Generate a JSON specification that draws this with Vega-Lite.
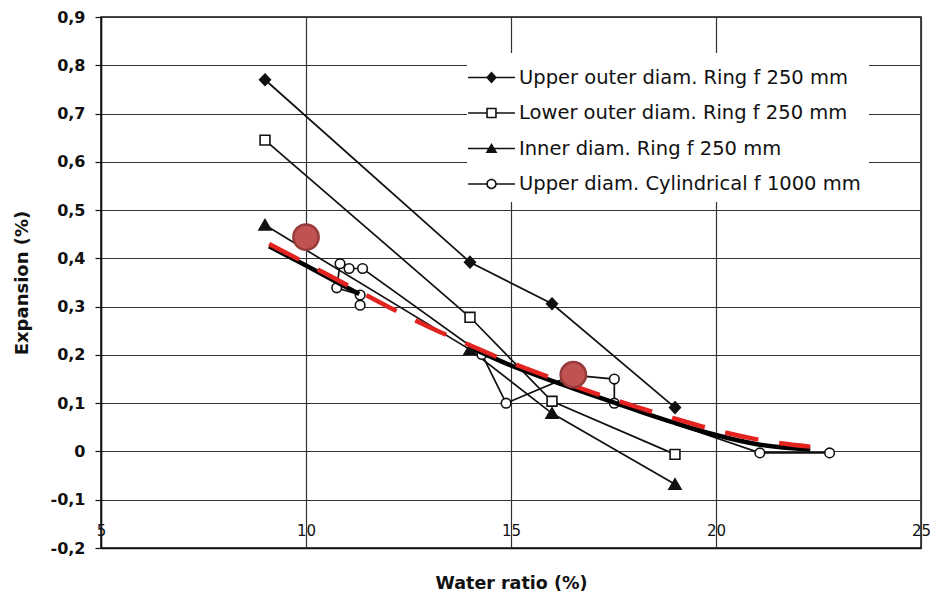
{
  "$schema": "https://vega.github.io/schema/vega-lite/v6.json",
  "width": 820,
  "height": 531,
  "autosize": {"type": "none"},
  "padding": {"left": 101, "top": 17, "right": 12, "bottom": 55},
  "background": "white",
  "config": {
    "view": {"stroke": "#111", "strokeWidth": 1.5},
    "font": "DejaVu Sans"
  },
  "resolve": {"scale": {"shape": "independent", "fill": "independent"}, "legend": {"shape": "independent", "fill": "independent"}},
  "datasets": {
    "series": [
      {"series": "Upper outer diam. Ring f 250 mm", "idx": 1, "x": 9, "y": 0.77},
      {"series": "Upper outer diam. Ring f 250 mm", "idx": 2, "x": 14, "y": 0.392},
      {"series": "Upper outer diam. Ring f 250 mm", "idx": 3, "x": 16, "y": 0.306},
      {"series": "Upper outer diam. Ring f 250 mm", "idx": 4, "x": 19, "y": 0.091},
      {"series": "Lower outer diam. Ring f 250 mm", "idx": 1, "x": 9, "y": 0.645},
      {"series": "Lower outer diam. Ring f 250 mm", "idx": 2, "x": 14, "y": 0.278},
      {"series": "Lower outer diam. Ring f 250 mm", "idx": 3, "x": 16, "y": 0.104},
      {"series": "Lower outer diam. Ring f 250 mm", "idx": 4, "x": 19, "y": -0.006},
      {"series": "Inner diam. Ring f 250 mm", "idx": 1, "x": 9, "y": 0.469},
      {"series": "Inner diam. Ring f 250 mm", "idx": 2, "x": 14, "y": 0.211},
      {"series": "Inner diam. Ring f 250 mm", "idx": 3, "x": 16, "y": 0.079},
      {"series": "Inner diam. Ring f 250 mm", "idx": 4, "x": 19, "y": -0.068},
      {"series": "Upper diam. Cylindrical f 1000 mm", "idx": 1, "x": 11.32, "y": 0.303},
      {"series": "Upper diam. Cylindrical f 1000 mm", "idx": 2, "x": 11.32, "y": 0.324},
      {"series": "Upper diam. Cylindrical f 1000 mm", "idx": 3, "x": 10.75, "y": 0.339},
      {"series": "Upper diam. Cylindrical f 1000 mm", "idx": 4, "x": 10.83, "y": 0.389},
      {"series": "Upper diam. Cylindrical f 1000 mm", "idx": 5, "x": 11.05, "y": 0.379},
      {"series": "Upper diam. Cylindrical f 1000 mm", "idx": 6, "x": 11.38, "y": 0.379},
      {"series": "Upper diam. Cylindrical f 1000 mm", "idx": 7, "x": 14.29, "y": 0.201},
      {"series": "Upper diam. Cylindrical f 1000 mm", "idx": 8, "x": 14.88, "y": 0.1},
      {"series": "Upper diam. Cylindrical f 1000 mm", "idx": 9, "x": 16.5, "y": 0.158},
      {"series": "Upper diam. Cylindrical f 1000 mm", "idx": 10, "x": 17.52, "y": 0.15},
      {"series": "Upper diam. Cylindrical f 1000 mm", "idx": 11, "x": 17.52, "y": 0.1},
      {"series": "Upper diam. Cylindrical f 1000 mm", "idx": 12, "x": 21.07, "y": -0.003},
      {"series": "Upper diam. Cylindrical f 1000 mm", "idx": 13, "x": 22.77, "y": -0.003}
    ],
    "fit_black": [
      {"seg": "a", "x": 9.1, "y": 0.425},
      {"seg": "a", "x": 10, "y": 0.385},
      {"seg": "a", "x": 10.7, "y": 0.353},
      {"seg": "a", "x": 11.3, "y": 0.326},
      {"seg": "b", "x": 14.1, "y": 0.212},
      {"seg": "b", "x": 15, "y": 0.178},
      {"seg": "b", "x": 16, "y": 0.146},
      {"seg": "b", "x": 17, "y": 0.116},
      {"seg": "b", "x": 18, "y": 0.087},
      {"seg": "b", "x": 19, "y": 0.059},
      {"seg": "b", "x": 20, "y": 0.034},
      {"seg": "b", "x": 21, "y": 0.015},
      {"seg": "b", "x": 22.3, "y": 0.004}
    ],
    "fit_red": [
      {"x": 9.1, "y": 0.43},
      {"x": 10, "y": 0.39},
      {"x": 11, "y": 0.345},
      {"x": 12, "y": 0.3},
      {"x": 13, "y": 0.258},
      {"x": 14, "y": 0.22},
      {"x": 15, "y": 0.184},
      {"x": 16, "y": 0.152},
      {"x": 17, "y": 0.122},
      {"x": 18, "y": 0.094},
      {"x": 19, "y": 0.068},
      {"x": 20, "y": 0.044},
      {"x": 21, "y": 0.025},
      {"x": 22.3, "y": 0.01}
    ],
    "highlights": [
      {"x": 10, "y": 0.444},
      {"x": 16.52, "y": 0.159}
    ]
  },
  "encoding": {
    "x": {
      "field": "x",
      "type": "quantitative",
      "scale": {"domain": [5, 25], "nice": false, "zero": false},
      "axis": {
        "title": "Water ratio (%)",
        "values": [5, 10, 15, 20, 25],
        "format": "d",
        "grid": true,
        "gridColor": "#333",
        "gridWidth": 1.2,
        "gridOpacity": 1,
        "ticks": false,
        "tickSize": 0,
        "domain": true,
        "domainColor": "#111",
        "domainWidth": 1.5,
        "labelPadding": -18,
        "labelBaseline": "middle",
        "labelFont": "DejaVu Sans",
        "labelFontSize": 15,
        "labelColor": "#111",
        "labelFlush": false,
        "labelBound": false,
        "labelOverlap": false,
        "titleFont": "DejaVu Sans",
        "titleFontWeight": "bold",
        "titleFontSize": 17.5,
        "titleColor": "#111",
        "titleBaseline": "middle",
        "titleY": 35
      }
    },
    "y": {
      "field": "y",
      "type": "quantitative",
      "scale": {"domain": [-0.2, 0.9], "nice": false, "zero": false},
      "axis": {
        "title": "Expansion (%)",
        "values": [-0.2, -0.1, 0, 0.1, 0.2, 0.3, 0.4, 0.5, 0.6, 0.7, 0.8, 0.9],
        "labelExpr": "datum.value == 0 ? '0' : (datum.value < 0 ? '-' : '') + replace(format(abs(datum.value), '.1f'), '.', ',')",
        "grid": true,
        "gridColor": "#333",
        "gridWidth": 1.2,
        "gridOpacity": 1,
        "ticks": true,
        "tickSize": 6,
        "tickColor": "#111",
        "tickWidth": 1.2,
        "domain": true,
        "domainColor": "#111",
        "domainWidth": 1.5,
        "labelPadding": 10,
        "labelFont": "DejaVu Sans",
        "labelFontWeight": "bold",
        "labelFontSize": 16,
        "labelColor": "#111",
        "labelOverlap": false,
        "labelFlush": false,
        "labelBound": false,
        "titleFont": "DejaVu Sans",
        "titleFontWeight": "bold",
        "titleFontSize": 18,
        "titleColor": "#111",
        "titleX": -79,
        "titleY": 265.5,
        "titleAngle": -90,
        "titleAlign": "center",
        "titleBaseline": "middle"
      }
    }
  },
  "layer": [
    {
      "data": {"name": "series"},
      "mark": {"type": "line", "color": "#111", "strokeWidth": 1.7},
      "encoding": {
        "detail": {"field": "series", "type": "nominal"},
        "order": {"field": "idx", "type": "quantitative"}
      }
    },
    {
      "data": {"name": "series"},
      "mark": {"type": "point", "stroke": "#111", "strokeWidth": 1.6, "opacity": 1, "size": 144},
      "encoding": {
        "shape": {
          "field": "series",
          "type": "nominal",
          "scale": {
            "domain": ["Upper outer diam. Ring f 250 mm", "Lower outer diam. Ring f 250 mm", "Inner diam. Ring f 250 mm", "Upper diam. Cylindrical f 1000 mm"],
            "range": ["M0,-0.95L0.9,0L0,0.95L-0.9,0Z", "M-0.82,-0.82H0.82V0.82H-0.82Z", "M0,-0.9L1,0.8H-1Z", "M-0.8,0C-0.8,-0.442,-0.442,-0.8,0,-0.8C0.442,-0.8,0.8,-0.442,0.8,0C0.8,0.442,0.442,0.8,0,0.8C-0.442,0.8,-0.8,0.442,-0.8,0Z"]
          },
          "legend": null
        },
        "fill": {
          "field": "series",
          "type": "nominal",
          "scale": {
            "domain": ["Upper outer diam. Ring f 250 mm", "Lower outer diam. Ring f 250 mm", "Inner diam. Ring f 250 mm", "Upper diam. Cylindrical f 1000 mm"],
            "range": ["#111111", "#ffffff", "#111111", "#ffffff"]
          },
          "legend": null
        }
      }
    },
    {
      "data": {"name": "series"},
      "mark": {"type": "point", "filled": true, "color": "#111", "size": 0, "strokeWidth": 0, "opacity": 1},
      "encoding": {
        "shape": {
          "field": "series",
          "type": "nominal",
          "scale": {
            "domain": ["Upper outer diam. Ring f 250 mm", "Lower outer diam. Ring f 250 mm", "Inner diam. Ring f 250 mm", "Upper diam. Cylindrical f 1000 mm"],
            "range": [
              "M-1.42,-0.052H1.42V0.052H-1.42ZM0,-0.36L0.33,0L0,0.36L-0.33,0Z",
              "M-1.42,-0.052H-0.318V0.052H-1.42ZM0.318,-0.052H1.42V0.052H0.318ZM-0.318,-0.318H0.318V0.318H-0.318ZM-0.222,-0.222V0.222H0.222V-0.222Z",
              "M-1.42,-0.052H1.42V0.052H-1.42ZM0,-0.33L0.36,0.27H-0.36Z",
              "M-1.42,-0.052H-0.31V0.052H-1.42ZM0.31,-0.052H1.42V0.052H0.31ZM-0.318,0C-0.318,-0.1756,-0.1756,-0.318,0,-0.318C0.1756,-0.318,0.318,-0.1756,0.318,0C0.318,0.1756,0.1756,0.318,0,0.318C-0.1756,0.318,-0.318,0.1756,-0.318,0ZM-0.222,0C-0.222,0.1226,-0.1226,0.222,0,0.222C0.1226,0.222,0.222,0.1226,0.222,0C0.222,-0.1226,0.1226,-0.222,0,-0.222C-0.1226,-0.222,-0.222,-0.1226,-0.222,0Z"
            ]
          },
          "legend": {
            "orient": "none",
            "legendX": 366,
            "legendY": 36,
            "title": null,
            "fillColor": "white",
            "padding": 8,
            "labelFont": "DejaVu Sans",
            "labelFontSize": 19.5,
            "labelColor": "#111",
            "labelLimit": 600,
            "labelOffset": 11,
            "symbolSize": 1089,
            "rowPadding": 9.5,
            "symbolStrokeWidth": 0,
            "symbolFillColor": "#111",
            "symbolOpacity": 1
          }
        }
      }
    },
    {
      "data": {"name": "fit_black"},
      "mark": {"type": "line", "color": "#000", "strokeWidth": 4.5, "interpolate": "monotone"},
      "encoding": {
        "detail": {"field": "seg", "type": "nominal"}
      }
    },
    {
      "data": {"name": "fit_red"},
      "mark": {"type": "line", "color": "#e2231f", "strokeWidth": 4.5, "strokeDash": [34, 21], "interpolate": "monotone"},
      "encoding": {}
    },
    {
      "data": {"name": "highlights"},
      "mark": {"type": "point", "shape": "circle", "filled": true, "fill": "#c15252", "stroke": "#963a3a", "strokeWidth": 2.5, "size": 640, "opacity": 1},
      "encoding": {}
    }
  ]
}
